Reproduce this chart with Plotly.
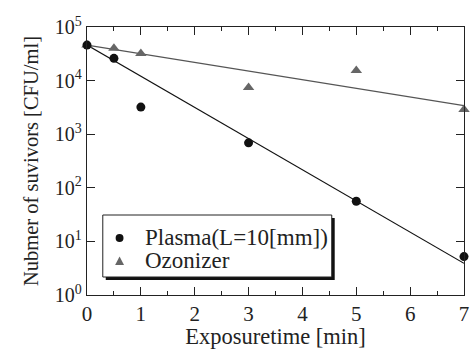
import plotly.graph_objects as go

# ---- data ----
time_min = [0, 0.5, 1, 3, 5, 7]
plasma_survivors = [4.6e4, 2.6e4, 3.2e3, 690, 56, 5.2]
ozonizer_survivors = [4.6e4, 4.0e4, 3.2e4, 7.4e3, 1.55e4, 2.9e3]

fit_time = [0, 7]
plasma_fit = [4.6e4, 3.9]
ozonizer_fit = [4.6e4, 3.4e3]

series_names = ["Plasma(L=10[mm])", "Ozonizer"]

y_tickvals = [1, 10, 100, 1000, 1e4, 1e5]
y_ticktext = ["10<sup>0</sup>", "10<sup>1</sup>", "10<sup>2</sup>",
              "10<sup>3</sup>", "10<sup>4</sup>", "10<sup>5</sup>"]
x_tickvals = [0, 1, 2, 3, 4, 5, 6, 7]

FONT = "Liberation Serif, Times New Roman, serif"
INK = "#222222"
PLASMA_C = "#111111"
OZON_C = "#666666"
W, H = 473, 349
L, R, T, B = 87, 4, 27, 54
PW, PH = W - L - R, H - T - B


def px2paper(x, y):
    return (x - L) / PW, (H - B - y) / PH


fig = go.Figure()

fig.add_trace(go.Scatter(x=fit_time, y=ozonizer_fit, mode="lines",
                         line=dict(color="#555555", width=1.2),
                         showlegend=False, hoverinfo="skip"))
fig.add_trace(go.Scatter(x=fit_time, y=plasma_fit, mode="lines",
                         line=dict(color=PLASMA_C, width=1.2),
                         showlegend=False, hoverinfo="skip"))
fig.add_trace(go.Scatter(x=time_min, y=ozonizer_survivors, mode="markers",
                         name=series_names[1], showlegend=False,
                         marker=dict(symbol="triangle-up", size=10, color=OZON_C),
                         cliponaxis=False))
fig.add_trace(go.Scatter(x=time_min, y=plasma_survivors, mode="markers",
                         name=series_names[0], showlegend=False,
                         marker=dict(symbol="circle", size=9, color=PLASMA_C),
                         cliponaxis=False))

# ---- hand-built legend box with drop shadow ----
def rect_px(x0, y0, x1, y1, **kw):
    a0, b0 = px2paper(x0, y1)
    a1, b1 = px2paper(x1, y0)
    fig.add_shape(type="rect", xref="paper", yref="paper",
                  x0=a0, x1=a1, y0=b0, y1=b1, layer="above", **kw)

rect_px(106, 218, 338, 280, fillcolor="#111111", line=dict(width=0))
rect_px(103, 215, 335, 277, fillcolor="white", line=dict(color=INK, width=1))

# legend symbols
cx, cy, r = 120, 238, 4
a0, b0 = px2paper(cx - r, cy + r)
a1, b1 = px2paper(cx + r, cy - r)
fig.add_shape(type="circle", xref="paper", yref="paper", x0=a0, x1=a1,
              y0=b0, y1=b1, fillcolor=PLASMA_C, line=dict(width=0), layer="above")
tx, ty = 120, 261
p1 = px2paper(tx - 4.5, ty + 4)
p2 = px2paper(tx + 4.5, ty + 4)
p3 = px2paper(tx, ty - 4.5)
fig.add_shape(type="path", xref="paper", yref="paper",
              path=f"M{p1[0]},{p1[1]} L{p2[0]},{p2[1]} L{p3[0]},{p3[1]} Z",
              fillcolor=OZON_C, line=dict(width=0), layer="above")

for name, ypix in zip(series_names, [237, 260]):
    ax_, ay_ = px2paper(144, ypix)
    fig.add_annotation(x=ax_, y=ay_, xref="paper", yref="paper",
                       text=name, showarrow=False, xanchor="left",
                       yanchor="middle",
                       font=dict(family=FONT, size=23, color=INK))

axis_common = dict(showline=True, linecolor=INK, linewidth=1.3,
                   mirror="allticks", ticks="inside", tickcolor=INK,
                   ticklen=8, tickwidth=1.2, showgrid=False, zeroline=False,
                   ticklabeloverflow="allow")

fig.update_layout(
    width=W, height=H,
    margin=dict(l=L, r=R, t=T, b=B),
    paper_bgcolor="white", plot_bgcolor="white",
    font=dict(family=FONT, color=INK),
    xaxis=dict(range=[0, 7], tickvals=x_tickvals,
               tickfont=dict(family=FONT, size=21, color=INK),
               minor=dict(dtick=0.5, ticks="inside", ticklen=4,
                          tickcolor=INK, tickwidth=1.2),
               title=dict(text="Exposuretime [min]",
                          font=dict(family=FONT, size=22.5, color=INK),
                          standoff=2),
               **axis_common),
    yaxis=dict(type="log", range=[0, 5], tickvals=y_tickvals,
               ticktext=y_ticktext,
               tickfont=dict(family=FONT, size=20, color=INK),
               title=dict(text="Nubmer of suvivors [CFU/ml]",
                          font=dict(family=FONT, size=20.5, color=INK),
                          standoff=10),
               **axis_common),
    showlegend=False,
)

fig.write_html("out.html")
